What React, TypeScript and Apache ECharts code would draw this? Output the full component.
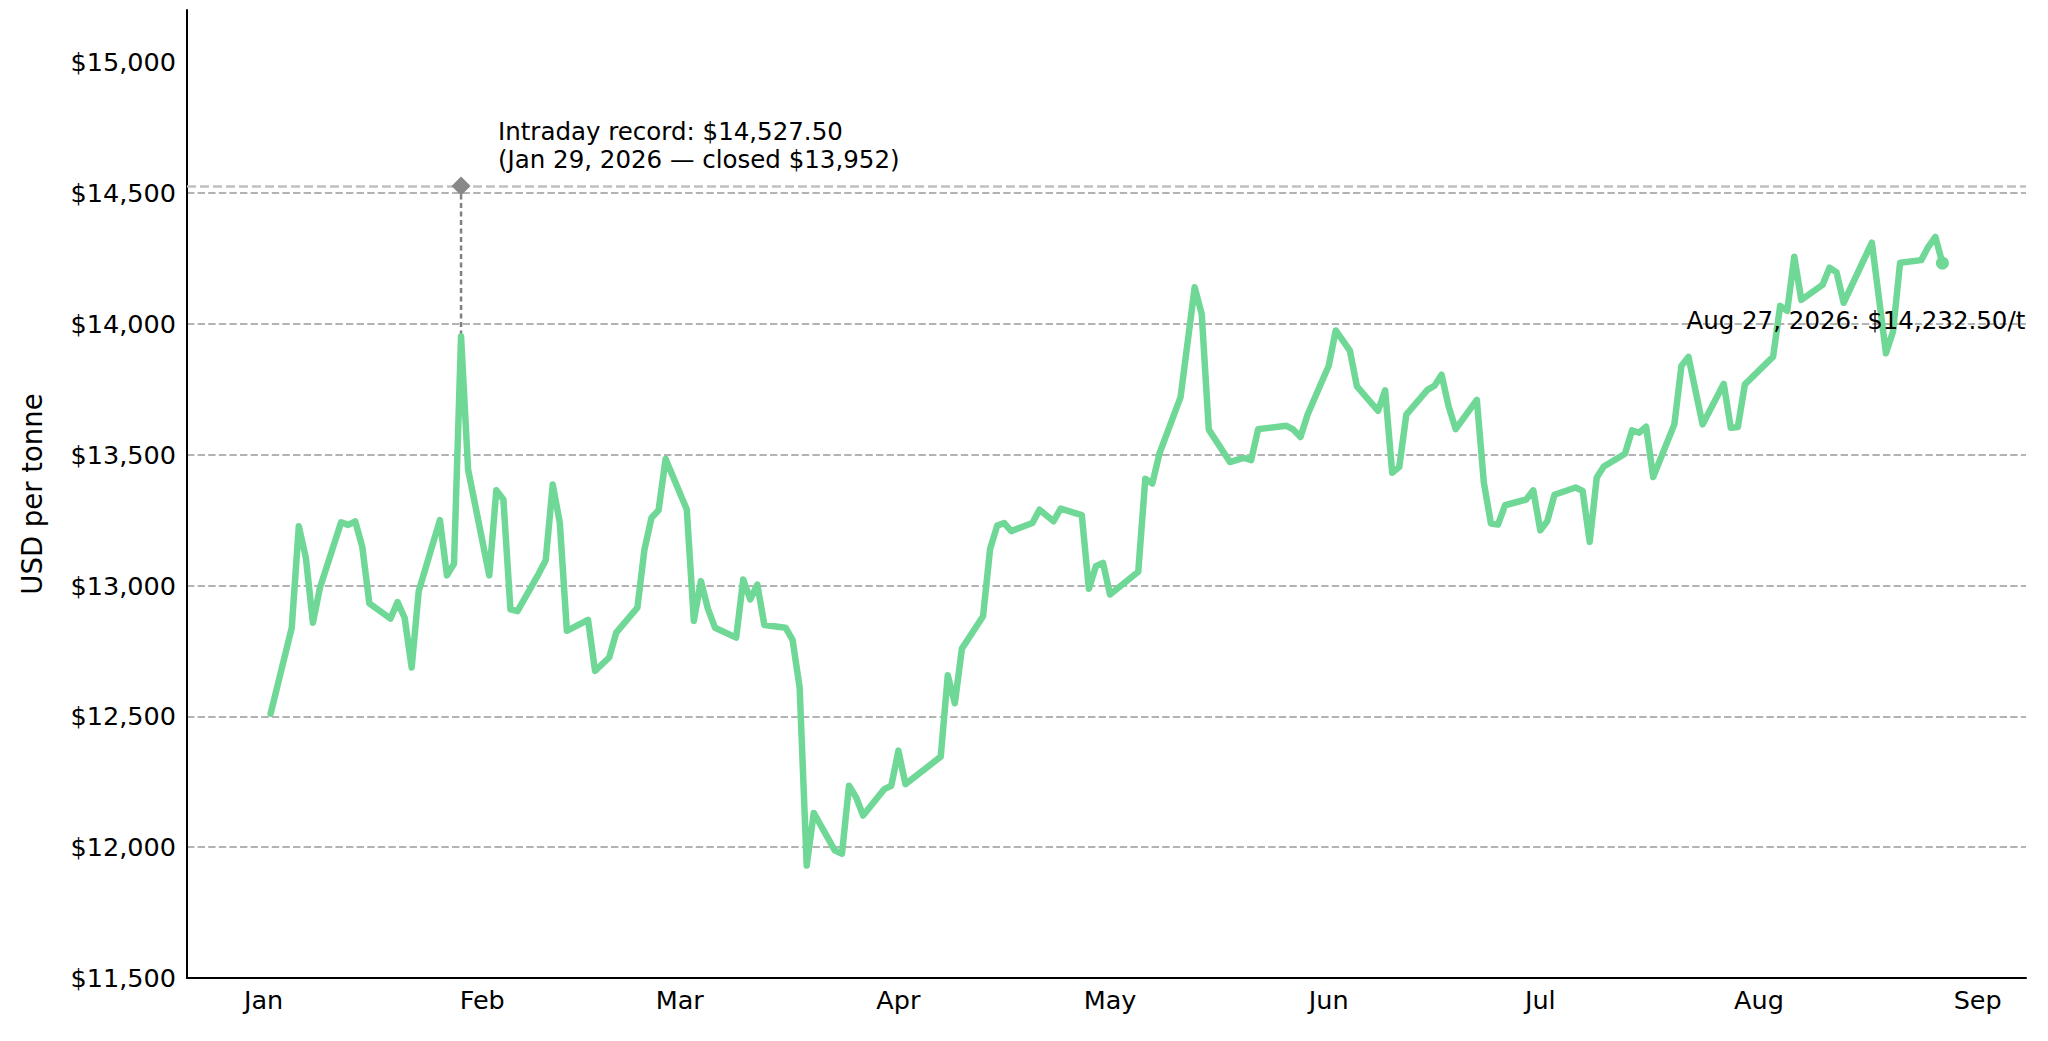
import React, { useEffect, useRef } from "react";
import * as echarts from "echarts";

const dates = [
  "2026-01-02", "2026-01-05", "2026-01-06", "2026-01-07", "2026-01-08", "2026-01-09",
  "2026-01-12", "2026-01-13", "2026-01-14", "2026-01-15", "2026-01-16",
  "2026-01-19", "2026-01-20", "2026-01-21", "2026-01-22", "2026-01-23",
  "2026-01-26", "2026-01-27", "2026-01-28", "2026-01-29", "2026-01-30",
  "2026-02-02", "2026-02-03", "2026-02-04", "2026-02-05", "2026-02-06",
  "2026-02-09", "2026-02-10", "2026-02-11", "2026-02-12", "2026-02-13",
  "2026-02-16", "2026-02-17", "2026-02-19", "2026-02-20",
  "2026-02-23", "2026-02-24", "2026-02-25", "2026-02-26", "2026-02-27",
  "2026-03-02", "2026-03-03", "2026-03-04", "2026-03-05", "2026-03-06",
  "2026-03-09", "2026-03-10", "2026-03-11", "2026-03-12", "2026-03-13",
  "2026-03-16", "2026-03-17", "2026-03-18", "2026-03-19", "2026-03-20",
  "2026-03-23", "2026-03-24", "2026-03-25", "2026-03-26", "2026-03-27",
  "2026-03-30", "2026-03-31", "2026-04-01", "2026-04-02",
  "2026-04-07", "2026-04-08", "2026-04-09", "2026-04-10",
  "2026-04-13", "2026-04-14", "2026-04-15", "2026-04-16", "2026-04-17",
  "2026-04-20", "2026-04-21", "2026-04-22", "2026-04-23", "2026-04-24",
  "2026-04-27", "2026-04-28", "2026-04-29", "2026-04-30", "2026-05-01",
  "2026-05-05", "2026-05-06", "2026-05-07", "2026-05-08",
  "2026-05-11", "2026-05-13", "2026-05-14", "2026-05-15",
  "2026-05-18", "2026-05-19", "2026-05-20", "2026-05-21", "2026-05-22",
  "2026-05-26", "2026-05-27", "2026-05-28", "2026-05-29",
  "2026-06-01", "2026-06-02", "2026-06-04", "2026-06-05",
  "2026-06-08", "2026-06-09", "2026-06-10", "2026-06-11", "2026-06-12",
  "2026-06-15", "2026-06-16", "2026-06-17", "2026-06-18", "2026-06-19",
  "2026-06-22", "2026-06-23", "2026-06-24", "2026-06-25", "2026-06-26",
  "2026-06-29", "2026-06-30", "2026-07-01", "2026-07-02", "2026-07-03",
  "2026-07-06", "2026-07-07", "2026-07-08", "2026-07-09", "2026-07-10",
  "2026-07-13", "2026-07-14", "2026-07-15", "2026-07-16", "2026-07-17",
  "2026-07-20", "2026-07-21", "2026-07-22", "2026-07-24",
  "2026-07-27", "2026-07-28", "2026-07-29", "2026-07-30",
  "2026-08-03", "2026-08-04", "2026-08-05", "2026-08-06", "2026-08-07",
  "2026-08-10", "2026-08-11", "2026-08-12", "2026-08-13",
  "2026-08-17", "2026-08-19", "2026-08-20", "2026-08-21",
  "2026-08-24", "2026-08-25", "2026-08-26", "2026-08-27",
];

const prices = [
  12510, 12839, 13227, 13106, 12858, 12992,
  13242, 13232, 13245, 13148, 12932,
  12874, 12937, 12877, 12687, 12979,
  13250, 13039, 13083, 13952, 13443,
  13039, 13364, 13329, 12909, 12902,
  13045, 13097, 13386, 13240, 12827,
  12869, 12674, 12725, 12820,
  12916, 13138, 13259, 13288, 13484,
  13291, 12865, 13017, 12911, 12839,
  12801, 13023, 12947, 13004, 12849,
  12839, 12792, 12610, 11930, 12131,
  11987, 11975, 12235, 12191, 12121,
  12222, 12235, 12369, 12241,
  12346, 12657, 12550, 12759,
  12883, 13140, 13229, 13239, 13208,
  13239, 13290, 13268, 13246, 13294,
  13269, 12988, 13074, 13087, 12966,
  13053, 13408, 13390, 13504,
  13720, 14140, 14038, 13596,
  13472, 13480, 13488, 13479, 13598,
  13611, 13596, 13568, 13653,
  13840, 13975, 13898, 13761,
  13668, 13746, 13431, 13453, 13653,
  13748, 13764, 13806, 13685, 13598,
  13710, 13392, 13237, 13233, 13307,
  13329, 13364, 13211, 13247, 13347,
  13375, 13362, 13167, 13413, 13455,
  13504, 13593, 13584, 13607, 13415,
  13616, 13839, 13874, 13616,
  13771, 13603, 13606, 13769,
  13875, 14069, 14050, 14257, 14092,
  14149, 14215, 14197, 14081,
  14311, 13888, 13971, 14234,
  14244, 14295, 14333, 14232.5,
];

const recordDate = "2026-01-29";
const recordIntraday = 14527.5;
const recordClose = 13952;

const monthStarts = [
  "2026-01-01", "2026-02-01", "2026-03-01", "2026-04-01", "2026-05-01",
  "2026-06-01", "2026-07-01", "2026-08-01", "2026-09-01",
];
const monthLabels = ["Jan", "Feb", "Mar", "Apr", "May", "Jun", "Jul", "Aug", "Sep"];

const yTicks = [11500, 12000, 12500, 13000, 13500, 14000, 14500, 15000];
const yMin = 11500;
const yMax = 15200;

const MONTH_NAMES = ["Jan", "Feb", "Mar", "Apr", "May", "Jun", "Jul", "Aug", "Sep", "Oct", "Nov", "Dec"];
const BASE = Date.UTC(2026, 0, 1);
const toDay = (s: string) => {
  const [y, m, d] = s.split("-").map(Number);
  return (Date.UTC(y, m - 1, d) - BASE) / 86400000;
};
const fmtInt = (v: number) => String(Math.round(v)).replace(/\B(?=(\d{3})+(?!\d))/g, ",");
const fmtMoney2 = (v: number) => {
  const [i, f] = v.toFixed(2).split(".");
  return i.replace(/\B(?=(\d{3})+(?!\d))/g, ",") + "." + f;
};
const fmtDate = (s: string) => {
  const [y, m, d] = s.split("-").map(Number);
  return `${MONTH_NAMES[m - 1]} ${d}, ${y}`;
};

const GREEN = "#70d897";
const FONT = "DejaVu Sans";

export default function App() {
  const ref = useRef<HTMLDivElement>(null);

  useEffect(() => {
    if (!ref.current) return;
    const chart = echarts.init(ref.current, undefined, { renderer: "svg" });

    const days = dates.map(toDay);
    const first = days[0];
    const last = days[days.length - 1];
    const pad = (last - first) * 0.05;
    const monthDays = monthStarts.map(toDay);
    const lineData = days.map((d, i) => [d, prices[i]]);
    const recDay = toDay(recordDate);
    const lastDate = dates[dates.length - 1];
    const lastPrice = prices[prices.length - 1];

    chart.setOption({
      animation: false,
      backgroundColor: "#ffffff",
      textStyle: { fontFamily: FONT },
      grid: { left: 187, right: 22, top: 10, bottom: 63, containLabel: false },
      xAxis: {
        type: "value",
        min: first - pad,
        max: last + pad,
        axisLine: { show: true, onZero: false, lineStyle: { color: "#000", width: 2 } },
        axisTick: { show: false, customValues: monthDays },
        splitLine: { show: false },
        axisLabel: {
          customValues: monthDays,
          margin: 9,
          fontSize: 25.5,
          color: "#000",
          fontFamily: FONT,
          formatter: (v: number) => {
            const idx = monthDays.findIndex((m) => Math.abs(m - v) < 1e-6);
            return idx >= 0 ? monthLabels[idx] : "";
          },
        },
      },
      yAxis: {
        type: "value",
        min: yMin,
        max: yMax,
        interval: 500,
        name: "USD per tonne",
        nameLocation: "middle",
        nameGap: 141,
        nameTextStyle: { fontSize: 27.5, color: "#000", fontFamily: FONT },
        axisLine: { show: true, onZero: false, lineStyle: { color: "#000", width: 2 } },
        axisTick: { show: false, customValues: yTicks },
        axisLabel: {
          customValues: yTicks,
          margin: 11,
          fontSize: 25.5,
          color: "#000",
          fontFamily: FONT,
          formatter: (v: number) => "$" + fmtInt(v),
        },
        splitLine: {
          show: true,
          showMinLine: false,
          showMaxLine: false,
          lineStyle: { color: "#b3b3b3", width: 2, type: [7.4, 3.2] },
        },
      },
      series: [
        {
          type: "line",
          data: lineData,
          showSymbol: false,
          symbol: "none",
          z: 3,
          lineStyle: { color: GREEN, width: 6.5, join: "round", cap: "round" },
          markLine: {
            silent: true,
            symbol: "none",
            label: { show: false },
            lineStyle: { color: "#c0c0c0", width: 2.5, type: [9, 4] },
            data: [{ yAxis: recordIntraday }],
            z: 1,
          },
        },
        {
          type: "line",
          data: [
            [recDay, recordIntraday],
            [recDay, recordClose],
          ],
          showSymbol: false,
          symbol: "none",
          z: 2,
          lineStyle: { color: "#808080", width: 2.5, type: [5, 3.5] },
        },
        {
          type: "scatter",
          data: [[recDay, recordIntraday]],
          symbol: "diamond",
          symbolSize: 19,
          z: 5,
          itemStyle: { color: "#888888", opacity: 1 },
          label: {
            show: true,
            position: [46.4, -59],
            align: "left",
            verticalAlign: "top",
            fontSize: 24.5,
            lineHeight: 28,
            color: "#000",
            fontFamily: FONT,
            formatter: () =>
              `Intraday record: $${fmtMoney2(recordIntraday)}\n(${fmtDate(recordDate)} — closed $${fmtInt(recordClose)})`,
          },
        },
        {
          type: "scatter",
          data: [[last, lastPrice]],
          symbol: "circle",
          symbolSize: 13,
          z: 5,
          itemStyle: { color: GREEN, opacity: 1 },
          label: {
            show: true,
            position: [-249.5, 50],
            align: "left",
            verticalAlign: "top",
            fontSize: 24.5,
            lineHeight: 28,
            color: "#000",
            fontFamily: FONT,
            formatter: () => `${fmtDate(lastDate)}: $${fmtMoney2(lastPrice)}/t`,
          },
        },
      ],
    });

    return () => chart.dispose();
  }, []);

  return (
    <div
      ref={ref}
      style={{ position: "absolute", left: 0, top: 0, width: 2048, height: 1041, background: "#fff" }}
    />
  );
}
